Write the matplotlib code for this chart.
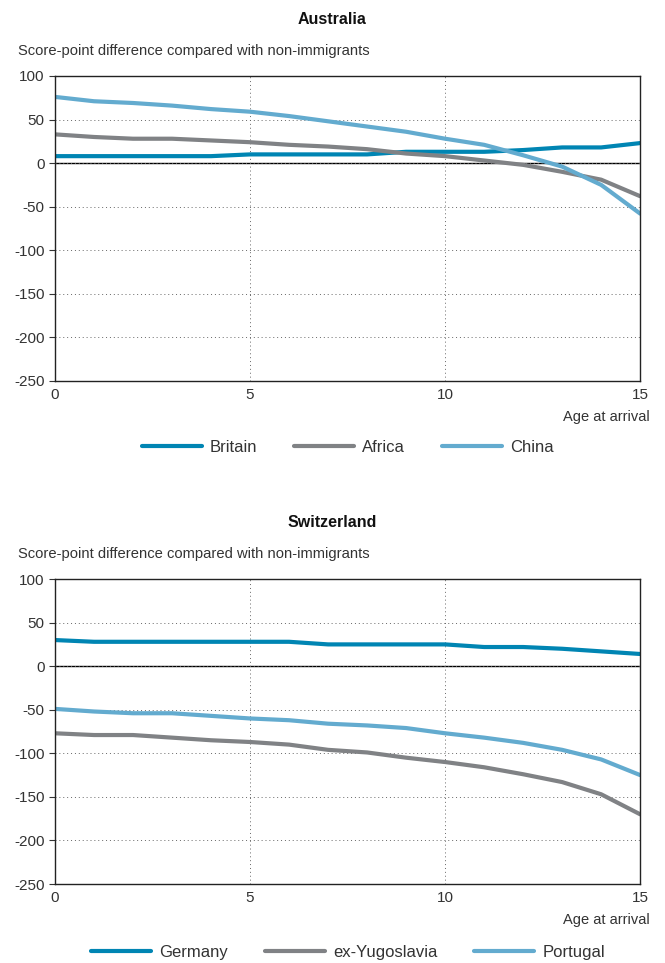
import matplotlib
matplotlib.use("Agg")
import matplotlib.pyplot as plt
from matplotlib.ticker import MultipleLocator

plt.rcParams['font.family'] = ['Liberation Sans', 'DejaVu Sans']
plt.rcParams['font.size'] = 10.5
plt.rcParams['axes.unicode_minus'] = False

ages = list(range(16))

# Australia
britain = [8, 8, 8, 8, 8, 10, 10, 10, 10, 13, 13, 13, 15, 18, 18, 23]
africa = [33, 30, 28, 28, 26, 24, 21, 19, 16, 11, 8, 3, -2, -10, -19, -38]
china = [76, 71, 69, 66, 62, 59, 54, 48, 42, 36, 28, 21, 9, -4, -25, -58]

# Switzerland
germany = [30, 28, 28, 28, 28, 28, 28, 25, 25, 25, 25, 22, 22, 20, 17, 14]
yugoslavia = [-77, -79, -79, -82, -85, -87, -90, -96, -99, -105, -110, -116, -124, -133, -147, -170]
portugal = [-49, -52, -54, -54, -57, -60, -62, -66, -68, -71, -77, -82, -88, -96, -107, -125]

DARK = '#0085b3'
GREY = '#808285'
LIGHT = '#63abcf'
TEXT = '#333333'

panels = [
    ("Australia", [("Britain", britain, DARK), ("Africa", africa, GREY), ("China", china, LIGHT)], 0.6044, 0.535),
    ("Switzerland", [("Germany", germany, DARK), ("ex-Yugoslavia", yugoslavia, GREY), ("Portugal", portugal, LIGHT)], 0.082, 0.0114),
]

fig = plt.figure(figsize=(6.65, 9.63), dpi=100)

for title, series, bottom, leg_y in panels:
    ax = fig.add_axes([0.0827, bottom, 0.88, 0.3167])
    for name, vals, col in series:
        ax.plot(ages, vals, color=col, lw=3, label=name, solid_capstyle='round')
    ax.axhline(0, color='black', lw=1, zorder=1)
    ax.set_xlim(0, 15)
    ax.set_ylim(-250, 100)
    ax.xaxis.set_major_locator(MultipleLocator(5))
    ax.yaxis.set_major_locator(MultipleLocator(50))
    ax.grid(True, ls=(0, (1, 3)), color='#666666', lw=0.7)
    for s in ax.spines.values():
        s.set_color('#222222')
        s.set_linewidth(1)
    ax.tick_params(colors=TEXT, labelsize=11, length=4, width=0.8)
    ax.tick_params(axis='x', length=0, pad=5)
    ax.text(1.017, -0.095, "Age at arrival", transform=ax.transAxes, ha='right',
            va='top', color=TEXT, fontsize=10.5)
    fig.text(0.5, bottom + 0.3167 + 0.059, title, ha='center', va='center',
             fontsize=11.5, fontweight='bold', color='#111111')
    fig.text(0.027, bottom + 0.3167 + 0.026, "Score-point difference compared with non-immigrants",
             ha='left', va='center', fontsize=10.6, color=TEXT)
    leg = fig.legend(handles=ax.get_lines()[:3], loc='center', bbox_to_anchor=(0.523, leg_y),
                     ncol=3, frameon=False, fontsize=12, handlelength=3.6, columnspacing=2.2,
                     handletextpad=0.5)
    for t in leg.get_texts():
        t.set_color(TEXT)

fig.savefig('out.png', dpi=100)
